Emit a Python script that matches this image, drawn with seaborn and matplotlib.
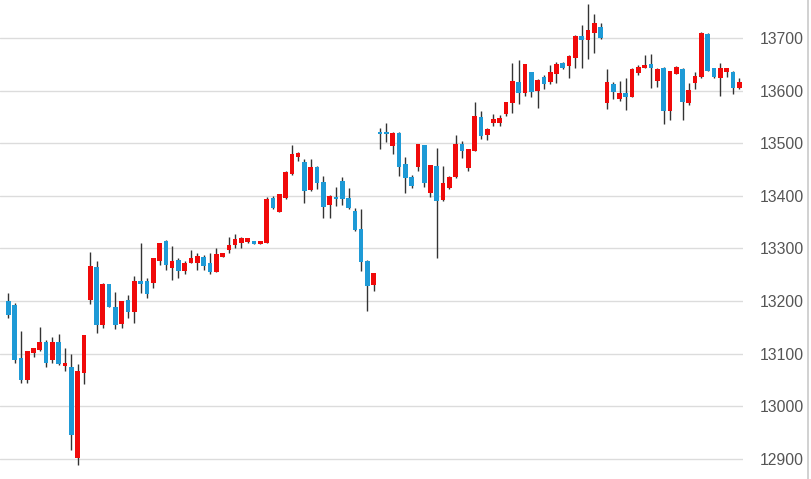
"""
Intraday candlestick chart (index around 13000-13700), price scale on the right.
"""

import numpy as np
import pandas as pd
import matplotlib.pyplot as plt
import seaborn as sns
from matplotlib.ticker import MultipleLocator

# ── Data ──────────────────────────────────────────────────────────────────────
opens = [
    13201, 13192, 13092, 13051, 13101, 13107, 13122, 13089, 13123, 13076,
    13075, 12902, 13064, 13202, 13265, 13154, 13232, 13189, 13157, 13203,
    13179, 13239, 13239, 13235, 13276, 13314, 13263, 13279, 13257, 13273,
    13273, 13283, 13272, 13256, 13284, 13297, 13306, 13311, 13312, 13314,
    13309, 13311, 13395, 13370, 13395, 13441, 13473, 13465, 13411, 13454,
    13426, 13382, 13398, 13429, 13396, 13371, 13336, 13277, 13230, 13522,
    13522, 13494, 13520, 13460, 13435, 13455, 13496, 13406, 13457, 13392,
    13414, 13435, 13498, 13452, 13486, 13549, 13515, 13538, 13539, 13555,
    13576, 13616, 13595, 13635, 13600, 13625, 13617, 13632, 13653, 13647,
    13661, 13704, 13696, 13710, 13721, 13577, 13613, 13584, 13595, 13588,
    13634, 13643, 13651, 13619, 13642, 13562, 13632, 13641, 13577, 13615,
    13625, 13707, 13642, 13623, 13636, 13636, 13604,
]
highs = [
    13215, 13197, 13143, 13106, 13111, 13151, 13127, 13132, 13137, 13111,
    13099, 13080, 13136, 13293, 13276, 13235, 13233, 13218, 13201, 13211,
    13248, 13311, 13244, 13282, 13311, 13316, 13305, 13281, 13276, 13297,
    13292, 13287, 13292, 13301, 13292, 13322, 13327, 13322, 13320, 13315,
    13315, 13398, 13400, 13404, 13447, 13497, 13484, 13469, 13469, 13456,
    13438, 13401, 13416, 13436, 13414, 13377, 13374, 13278, 13254, 13528,
    13539, 13521, 13521, 13474, 13439, 13499, 13497, 13459, 13490, 13457,
    13437, 13515, 13504, 13489, 13578, 13561, 13529, 13556, 13554, 13579,
    13653, 13658, 13651, 13636, 13621, 13629, 13648, 13655, 13654, 13667,
    13705, 13724, 13764, 13745, 13728, 13641, 13616, 13618, 13624, 13643,
    13649, 13667, 13669, 13643, 13645, 13638, 13646, 13642, 13614, 13636,
    13711, 13709, 13643, 13653, 13643, 13638, 13623,
]
lows = [
    13168, 13083, 13045, 13045, 13094, 13106, 13075, 13083, 13078, 13067,
    12918, 12888, 13042, 13194, 13139, 13148, 13188, 13147, 13148, 13168,
    13158, 13216, 13206, 13224, 13268, 13260, 13241, 13244, 13252, 13272,
    13260, 13260, 13251, 13255, 13283, 13292, 13301, 13301, 13311, 13308,
    13308, 13310, 13375, 13369, 13394, 13440, 13466, 13387, 13410, 13412,
    13357, 13357, 13381, 13382, 13375, 13334, 13257, 13181, 13219, 13489,
    13503, 13479, 13438, 13405, 13414, 13447, 13417, 13397, 13281, 13391,
    13413, 13434, 13471, 13448, 13485, 13507, 13506, 13533, 13532, 13552,
    13558, 13574, 13590, 13587, 13567, 13603, 13612, 13614, 13641, 13623,
    13642, 13642, 13659, 13671, 13698, 13564, 13583, 13581, 13563, 13587,
    13630, 13642, 13604, 13607, 13536, 13544, 13631, 13544, 13573, 13603,
    13624, 13637, 13624, 13589, 13626, 13593, 13603,
]
closes = [
    13173, 13089, 13051, 13105, 13110, 13123, 13083, 13123, 13081, 13083,
    12945, 13068, 13135, 13267, 13154, 13232, 13189, 13154, 13200, 13179,
    13239, 13232, 13214, 13281, 13310, 13268, 13277, 13257, 13273, 13281,
    13286, 13267, 13256, 13289, 13291, 13306, 13317, 13319, 13319, 13309,
    13314, 13393, 13376, 13403, 13446, 13479, 13481, 13409, 13454, 13425,
    13378, 13400, 13393, 13393, 13376, 13335, 13275, 13229, 13253, 13517,
    13517, 13520, 13455, 13433, 13419, 13498, 13425, 13458, 13390, 13425,
    13436, 13498, 13485, 13488, 13551, 13514, 13527, 13545, 13547, 13578,
    13618, 13595, 13650, 13598, 13620, 13613, 13635, 13650, 13642, 13666,
    13704, 13696, 13715, 13728, 13699, 13616, 13597, 13595, 13588, 13641,
    13645, 13649, 13642, 13641, 13562, 13637, 13645, 13579, 13601, 13628,
    13710, 13638, 13626, 13642, 13642, 13604, 13617,
]
y_ticks = [12900, 13000, 13100, 13200, 13300, 13400, 13500, 13600, 13700]

UP_COLOR   = "#f00a0a"
DOWN_COLOR = "#1e9ad6"
WICK_COLOR = "#333333"
GRID_COLOR = "#dcdcdc"

df = pd.DataFrame({"open": opens, "high": highs, "low": lows, "close": closes})
df["idx"] = np.arange(len(df))
df["up"] = df["close"] >= df["open"]
df["bottom"] = df[["open", "close"]].min(axis=1)
df["height"] = (df["close"] - df["open"]).abs().clip(lower=3)

# ── Figure ────────────────────────────────────────────────────────────────────
sns.set_theme(style="white")
plt.rcParams["font.family"] = ["Liberation Sans", "DejaVu Sans"]

fig = plt.figure(figsize=(8.11, 4.79), dpi=100)
ax = fig.add_axes([0, 0, 743 / 811, 1])

for y in y_ticks:
    ax.axhline(y, color=GRID_COLOR, lw=1, zorder=0)

ax.vlines(df["idx"], df["low"], df["high"], color=WICK_COLOR, lw=1, zorder=1)
colors = np.where(df["up"], UP_COLOR, DOWN_COLOR)
ax.bar(df["idx"], df["height"], bottom=df["bottom"], width=0.74,
       color=colors, edgecolor="none", zorder=2)

ax.set_xlim(-1.32, 116.6)
ax.set_ylim(12862, 13772)
ax.set_xticks([])
ax.set_yticks(y_ticks)
ax.yaxis.tick_right()
ax.tick_params(axis="y", length=0, pad=12, labelsize=11.3, labelcolor="#555555")
for s in ax.spines.values():
    s.set_visible(False)

# thin scale strip at the far right edge
ax2 = fig.add_axes([807.5 / 811, 0, 0.0005, 1])
ax2.set_ylim(ax.get_ylim())
ax2.set_xticks([])
ax2.yaxis.set_major_locator(MultipleLocator(100))
ax2.yaxis.set_minor_locator(MultipleLocator(25))
ax2.tick_params(axis="y", which="both", direction="in", length=3,
                color="#cccccc", labelleft=False)
for name, s in ax2.spines.items():
    s.set_visible(name == "left")
ax2.spines["left"].set_color("#cccccc")
ax2.patch.set_alpha(0)

fig.savefig("out.png", dpi=100)
